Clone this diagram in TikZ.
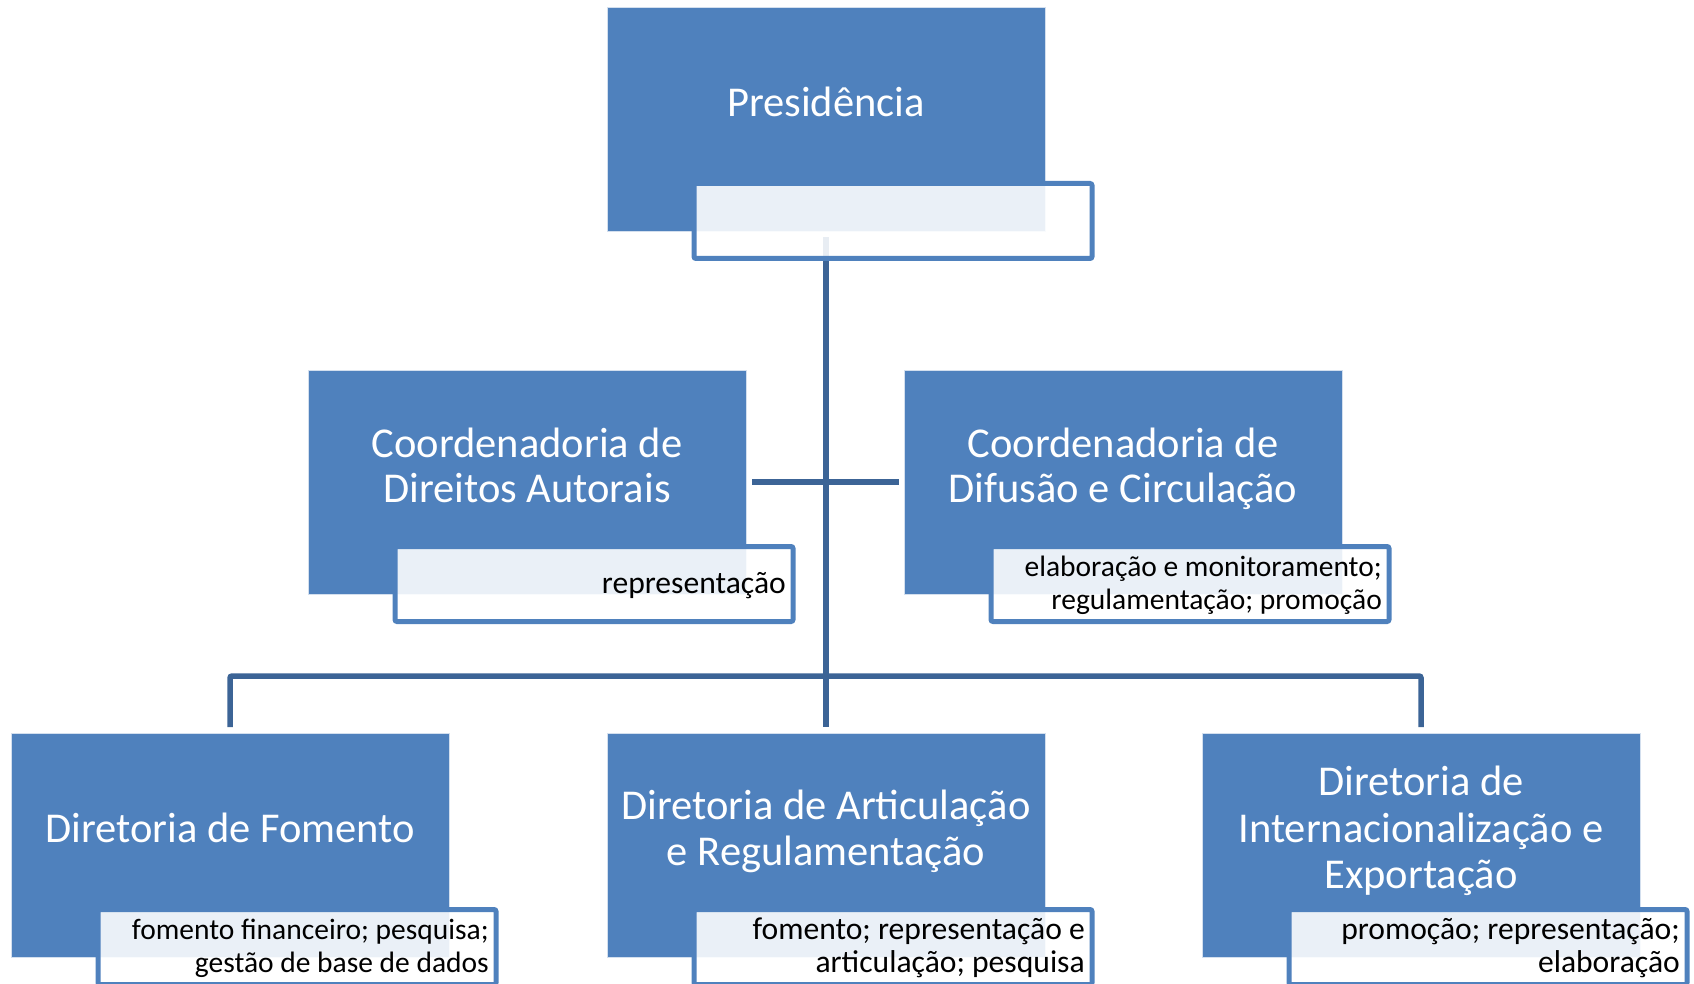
\documentclass[tikz,border=0pt]{standalone}
\usepackage{fontspec}
\setmainfont{Carlito}
\definecolor{boxblue}{HTML}{4F81BD}
\definecolor{lineblue}{RGB}{60,100,150}
\tikzset{
 mainbox/.style={rectangle, fill=boxblue, draw=white!75!boxblue, line width=0.8pt, minimum width=438pt, minimum height=224pt, inner sep=0pt, outer sep=0pt, anchor=north west},
 subbox/.style={rectangle, draw=boxblue, line width=5pt, rounded corners=2pt, fill=white, fill opacity=0.885, minimum width=398pt, minimum height=75pt, inner sep=0pt, outer sep=0pt, anchor=north west},
 conn/.style={draw=lineblue, line width=5.5pt},
 bigtxt/.style={text=white, font=\fontsize{42.5}{46}\selectfont, inner sep=0pt, anchor=base},
 smalltxt/.style={text=black, font=\fontsize{29.5}{33}\selectfont, inner sep=0pt, anchor=base east},
 smalltxtb/.style={text=black, font=\fontsize{31.6}{33}\selectfont, inner sep=0pt, anchor=base east},
}
\begin{document}
\begin{tikzpicture}[x=1pt,y=-1pt]
\useasboundingbox (0,0) rectangle (1694,984);
% main boxes
\node[mainbox] (pres) at (607,7) {};
\node[mainbox] (cda) at (308,370) {};
\node[mainbox] (cdc) at (904,370) {};
\node[mainbox] (dfo) at (11,733) {};
\node[mainbox] (dar) at (607,733) {};
\node[mainbox] (die) at (1202,733) {};
% connectors
\coordinate (branch) at (826,676);
\draw[conn] ([yshift=-6pt]pres.south) -- ([yshift=6pt]dar.north);
\draw[conn] ([xshift=6pt]cda.east) -- ([xshift=-5pt]cdc.west);
\draw[conn, rounded corners=2pt] ([yshift=6pt]dfo.north) |- (branch) -| ([yshift=6pt]die.north);
% sub boxes
\node[subbox] (presS) at ([xshift=87pt,yshift=-176.5pt]pres.north west) {};
\node[subbox] (cdaS) at ([xshift=87pt,yshift=-176.5pt]cda.north west) {};
\node[subbox] (cdcS) at ([xshift=87pt,yshift=-176.5pt]cdc.north west) {};
\node[subbox] (dfoS) at ([xshift=87pt,yshift=-176.5pt]dfo.north west) {};
\node[subbox] (darS) at ([xshift=87pt,yshift=-176.5pt]dar.north west) {};
\node[subbox] (dieS) at ([xshift=87pt,yshift=-176.5pt]die.north west) {};
% main texts
\node[bigtxt] (presT) at (826,117) {Presidência};
\node[bigtxt] (cdaT1) at (527,457) {Coordenadoria de};
\node[bigtxt] (cdaT2) at (527,502) {Direitos Autorais};
\node[bigtxt] (cdcT1) at (1123,457) {Coordenadoria de};
\node[bigtxt] (cdcT2) at (1123,502) {Difusão e Circulação};
\node[bigtxt] (dfoT) at (230,842) {Diretoria de Fomento};
\node[bigtxt] (darT1) at (826,819) {Diretoria de Articulação};
\node[bigtxt] (darT2) at (826,865) {e Regulamentação};
\node[bigtxt] (dieT1) at (1421,795) {Diretoria de};
\node[bigtxt] (dieT2) at (1421,842) {Internacionalização e};
\node[bigtxt] (dieT3) at (1421,888) {Exportação};
% sub texts
\node[smalltxtb] (cdaD) at (786,593) {representação};
\node[smalltxt] (cdcD1) at (1382,576) {elaboração e monitoramento;};
\node[smalltxt] (cdcD2) at (1382,609) {regulamentação; promoção};
\node[smalltxt] (dfoD1) at (489,939) {fomento financeiro; pesquisa;};
\node[smalltxt] (dfoD2) at (489,972) {gestão de base de dados};
\node[smalltxtb] (darD1) at (1085,939) {fomento; representação e};
\node[smalltxtb] (darD2) at (1085,972) {articulação; pesquisa};
\node[smalltxtb] (dieD1) at (1680,939) {promoção; representação;};
\node[smalltxtb] (dieD2) at (1680,972) {elaboração};
\end{tikzpicture}
\end{document}
